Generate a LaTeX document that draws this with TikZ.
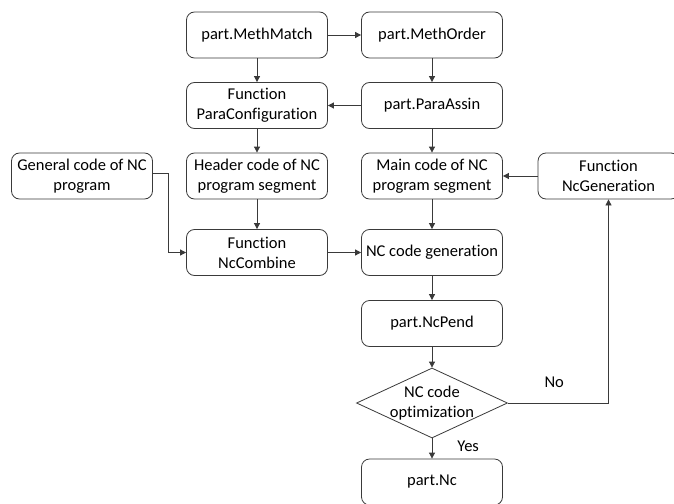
\documentclass[tikz,border=0pt]{standalone}
\usepackage{fontspec}
\setmainfont{Carlito}[Ligatures=NoCommon, RawFeature={-liga;-calt;-clig;-dlig}]
\usetikzlibrary{arrows.meta,shapes.geometric}
\definecolor{lc}{HTML}{3A3A3A}
\begin{document}
\begin{tikzpicture}[x=1pt,y=-1pt,
  font=\fontsize{16.5}{20}\selectfont,
  box/.style={draw=lc, line width=0.8pt, rounded corners=8pt, fill=white,
    minimum width=141pt, minimum height=46pt, inner sep=1pt, align=center, text=black},
  dec/.style={draw=lc, line width=0.8pt, diamond, minimum width=151pt, minimum height=70pt,
    inner sep=0pt, fill=white},
  txt/.style={align=center, inner sep=0pt, text=black},
  arr/.style={draw=lc, line width=0.8pt, -{Triangle[length=6pt,width=6pt]}},
  lbl/.style={inner sep=1pt, text=black}]
\useasboundingbox (0,0) rectangle (674,503);
\begin{scope}
\clip (0,0) rectangle (674,503);
\node[box] (mm) at (257,35) {part.MethMatch};
\node[box] (mo) at (432,35) {part.MethOrder};
\node[box] (pc) at (257,105.5) {Function\\ParaConfiguration};
\node[box] (pa) at (432,105.5) {part.ParaAssin};
\node[box] (gc) at (82,176) {General code of NC\\program};
\node[box] (hc) at (257,176) {Header code of NC\\program segment};
\node[box] (mc) at (432,176) {Main code of NC\\program segment};
\node[box] (ng) at (608.5,176) {Function\\NcGeneration};
\node[box] (nc) at (257,252.5) {Function\\NcCombine};
\node[box] (gen) at (432,252.5) {NC code generation};
\node[box] (np) at (432,323.5) {part.NcPend};
\node[dec] (dia) at (432,403) {};
\node[txt] (diat) at (dia.center) {NC code\\optimization};
\node[box] (pn) at (432,482) {part.Nc};
\coordinate (bend) at (168,173);
\draw[arr] (mm) -- (mo);
\draw[arr] (mm) -- (pc);
\draw[arr] (mo) -- (pa);
\draw[arr] (pa) -- (pc);
\draw[arr] (pc) -- (hc);
\draw[arr] (pa) -- (mc);
\draw[arr] (ng) -- (mc);
\draw[arr] (hc) -- (nc);
\draw[arr] (gc.east |- bend) -- (bend) |- (nc.west);
\draw[arr] (nc) -- (gen);
\draw[arr] (mc) -- (gen);
\draw[arr] (gen) -- (np);
\draw[arr] (np) -- (dia);
\draw[arr] (dia.east) -| node[lbl, pos=0.23, above=14pt] (no) {No} (ng.south);
\draw[arr] (dia.south) -- node[lbl, right=24pt, pos=0.4] (yes) {Yes} (pn);
\end{scope}
\end{tikzpicture}
\end{document}
